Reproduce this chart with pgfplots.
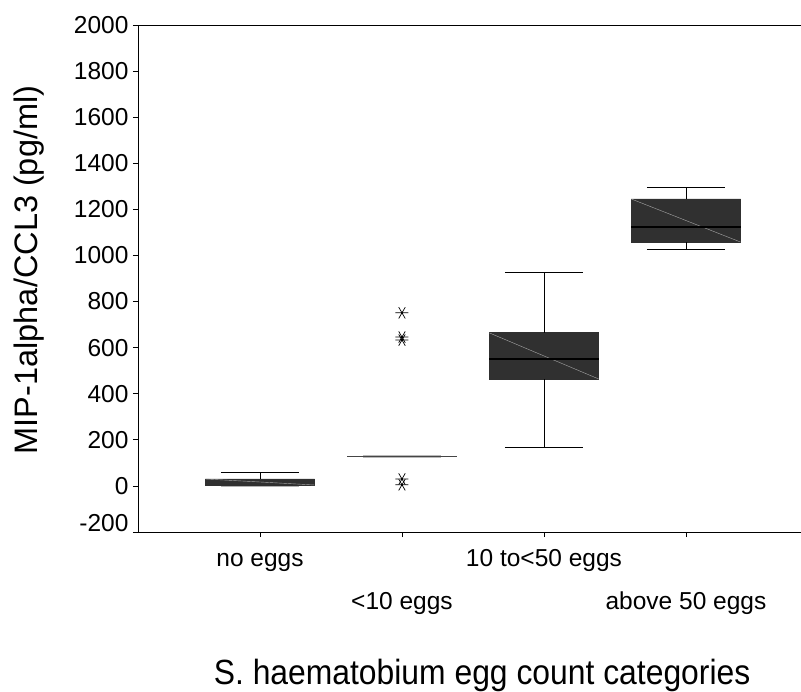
\documentclass[border=0pt]{standalone}
\usepackage{fontspec}
\setmainfont{Liberation Sans}
\usepackage{graphicx}
\usepackage{pgfplots}
\pgfplotsset{compat=1.18}
\definecolor{boxgray}{HTML}{303030}
\begin{document}
\begin{tikzpicture}
\path[use as bounding box] (-138bp,-160bp) rectangle (663bp,532bp);
\begin{axis}[
  at={(0,0)}, anchor=south west,
  scale only axis,
  width=663bp, height=507bp,
  xmin=-0.859, xmax=3.810,
  ymin=-200, ymax=2000,
  axis x line*=box, axis y line*=left,
  axis line style={line width=0.8bp, black},
  xtick={0,2}, xticklabels={no eggs, 10 to<50 eggs},
  extra x ticks={1,3}, extra x tick labels={<10 eggs, above 50 eggs},
  extra x tick style={xticklabel style={yshift=-43bp}},
  xtick pos=lower,
  ytick={0,200,...,2000},
  extra y ticks={-200},
  extra y tick style={yticklabel style={yshift=9bp}},
  ytick pos=left,
  tick align=outside,
  major tick length=5bp,
  every tick/.style={black, line width=0.8bp},
  /pgf/number format/assume math mode=true,
  /pgf/number format/1000 sep={},
  tick label style={font=\fontsize{24.5bp}{28bp}\selectfont},
  yticklabel style={xshift=-1bp},
  xticklabel style={text height=17.5bp, text depth=0bp, yshift=-8bp},
  xlabel={\scalebox{0.91}[1]{S. haematobium egg count categories}},
  ylabel={MIP-1alpha/CCL3 (pg/ml)},
  xlabel style={font=\fontsize{35bp}{40bp}\selectfont, at={(rel axis cs:0.519,0)}, anchor=base, yshift=-152bp},
  ylabel style={font=\fontsize{32.5bp}{36bp}\selectfont, at={(rel axis cs:-0.1523,0.517)}, anchor=base},
  unbounded coords=jump,
  clip=false,
]
% ---- boxes (quartiles)
\addplot[fill=boxgray, draw=boxgray, line width=0.8bp] coordinates {(-0.385,4) (0.385,4) (0.385,30) (-0.385,30) (-0.385,4)};
\addplot[fill=boxgray, draw=boxgray, line width=0.8bp] coordinates {(1.615,464) (2.385,464) (2.385,664) (1.615,664) (1.615,464)};
\addplot[fill=boxgray, draw=boxgray, line width=0.8bp] coordinates {(2.615,1058) (3.385,1058) (3.385,1245) (2.615,1245) (2.615,1058)};
% pattern diagonals
\addplot[gray!70, line width=0.4bp] coordinates {(-0.385,30) (0.385,4)};
\addplot[gray!70, line width=0.4bp] coordinates {(1.615,664) (2.385,464)};
\addplot[gray!70, line width=0.4bp] coordinates {(2.615,1245) (3.385,1058)};
% ---- medians
\addplot[black, line width=1.4bp] coordinates {(1.615,551) (2.385,551)};
\addplot[black, line width=1.4bp] coordinates {(2.615,1124) (3.385,1124)};
% ---- whiskers
\addplot[black, line width=0.8bp] coordinates {
 (0,30) (0,60) (0,nan) (-0.275,60) (0.275,60) (0,nan)
 (2,664) (2,928) (2,nan) (1.725,928) (2.275,928) (2,nan)
 (2,464) (2,169) (2,nan) (1.725,169) (2.275,169) (2,nan)
 (3,1245) (3,1297) (3,nan) (2.725,1297) (3.275,1297) (3,nan)
 (3,1058) (3,1028) (3,nan) (2.725,1028) (3.275,1028)};
\addplot[gray!60, line width=1.2bp] coordinates {(-0.275,-3) (0.275,-3)};
% ---- <10 eggs (flat box)
\addplot[gray!55, line width=3bp] coordinates {(0.725,128) (1.275,128)};
\addplot[boxgray!90, line width=1bp] coordinates {(0.615,128) (1.385,128)};
% ---- outliers
\addplot[only marks, mark=asterisk, mark size=6.5bp, mark options={rotate=90, black, line width=0.7bp}] coordinates {(1,751) (1,646) (1,633) (1,30) (1,5)};
\end{axis}
\end{tikzpicture}
\end{document}
